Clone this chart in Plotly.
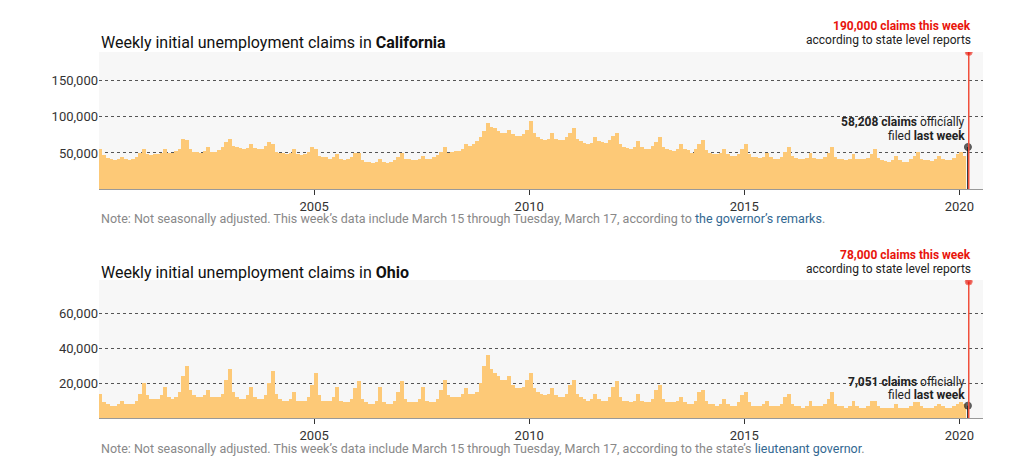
import pandas as pd
import plotly.graph_objects as go

# monthly average weekly initial claims, thousands
ca_k = [
    55, 47, 43, 42, 40, 42, 45, 41, 40, 41, 44, 50,
    55, 48, 47, 48, 48, 50, 55, 50, 50, 53, 56, 70,
    68, 55, 52, 52, 50, 53, 58, 52, 52, 54, 58, 65,
    70, 60, 58, 57, 56, 57, 62, 57, 55, 56, 60, 65,
    62, 52, 50, 50, 48, 50, 56, 48, 47, 48, 52, 58,
    55, 46, 44, 44, 42, 44, 48, 42, 40, 41, 44, 50,
    50, 40, 38, 37, 36, 38, 42, 37, 36, 37, 40, 45,
    50, 42, 41, 40, 40, 42, 46, 42, 42, 44, 47, 52,
    58, 50, 52, 53, 53, 56, 62, 60, 62, 66, 72, 80,
    92, 86, 85, 80, 78, 78, 82, 76, 74, 74, 76, 82,
    95, 78, 72, 70, 68, 70, 78, 70, 68, 68, 72, 78,
    85, 70, 66, 64, 63, 64, 72, 66, 65, 64, 68, 74,
    78, 62, 58, 57, 56, 58, 66, 58, 56, 56, 60, 65,
    72, 58, 55, 54, 53, 55, 62, 55, 54, 50, 55, 62,
    68, 54, 50, 49, 48, 50, 56, 48, 46, 46, 49, 55,
    62, 48, 45, 44, 43, 44, 50, 44, 42, 42, 45, 52,
    58, 46, 43, 42, 42, 43, 50, 43, 42, 42, 44, 50,
    58, 45, 42, 41, 40, 42, 48, 42, 41, 41, 43, 48,
    55, 43, 40, 39, 38, 40, 46, 40, 38, 38, 41, 46,
    52, 42, 40, 40, 39, 41, 46, 41, 40, 40, 43, 48,
    52, 46,
]
oh_k = [
    14, 9, 8, 7, 7, 8, 10, 8, 8, 8, 10, 14,
    20, 13, 11, 11, 11, 13, 18, 12, 11, 12, 15, 24,
    30, 16, 13, 12, 12, 13, 16, 12, 12, 12, 14, 22,
    28, 15, 12, 11, 11, 13, 18, 12, 11, 11, 13, 20,
    27, 14, 11, 10, 10, 11, 15, 10, 10, 10, 12, 19,
    26, 13, 10, 10, 10, 12, 18, 10, 9, 9, 11, 17,
    21, 11, 9, 8, 8, 10, 18, 9, 8, 8, 10, 15,
    21, 11, 9, 9, 9, 11, 18, 10, 9, 9, 11, 16,
    22, 13, 12, 12, 12, 14, 17, 14, 14, 15, 20, 30,
    36, 28, 26, 24, 22, 22, 24, 19, 17, 17, 18, 22,
    26, 17, 15, 14, 13, 14, 17, 13, 12, 12, 14, 19,
    22, 14, 12, 11, 10, 11, 14, 11, 10, 10, 12, 18,
    21, 12, 10, 10, 9, 10, 14, 10, 9, 9, 11, 16,
    19, 11, 9, 9, 9, 10, 12, 9, 8, 8, 10, 15,
    16, 10, 8, 8, 7, 8, 11, 8, 7, 7, 9, 13,
    15, 9, 7, 7, 7, 8, 10, 7, 7, 7, 8, 12,
    14, 8, 7, 7, 6, 7, 10, 7, 7, 7, 8, 11,
    15, 8, 7, 7, 6, 7, 10, 7, 6, 6, 7, 10,
    10, 7, 6, 6, 6, 6, 8, 6, 6, 6, 7, 9,
    9, 7, 6, 6, 6, 7, 8, 7, 6, 6, 7, 8,
    9, 8,
]
last_week_date = "2020-03-14"
this_week_date = "2020-03-21"
ca_last, ca_now = 58208, 190000
oh_last, oh_now = 7051, 78000

months = pd.date_range("2000-01-01", periods=len(ca_k), freq="MS") + pd.Timedelta(days=14)

BAR = "#fdc977"
FONT = "Roboto"
GREY = "#888888"
OFF = 8  # page body margin

fig = go.Figure()

panels = [
    ("x", "y", ca_k, ca_last, ca_now),
    ("x2", "y2", oh_k, oh_last, oh_now),
]
for xa, ya, vals, last, now in panels:
    fig.add_trace(go.Bar(x=months, y=[v * 1000 for v in vals], marker_color=BAR,
                         marker_line_width=0, width=31 * 86400000,
                         xaxis=xa, yaxis=ya, showlegend=False))
    fig.add_trace(go.Scatter(x=[last_week_date, last_week_date], y=[0, last],
                             mode="lines+markers", line=dict(color="#111", width=1.5),
                             marker=dict(size=[0, 7], color="#222"),
                             xaxis=xa, yaxis=ya, showlegend=False))
    fig.add_trace(go.Scatter(x=[this_week_date, this_week_date], y=[0, now],
                             mode="lines+markers", line=dict(color="#f0503c", width=1.5),
                             marker=dict(size=[0, 7], color="#e8140c"),
                             xaxis=xa, yaxis=ya, showlegend=False))


def pxx(x):
    return (x - OFF) / 1024


def pxy(y):
    return 1 - (y - OFF) / 466


xcommon = dict(range=["2000-01-01", "2020-07-20"], domain=[pxx(99), pxx(983)],
               tickvals=["2005-01-01", "2010-01-01", "2015-01-01", "2020-01-01"],
               ticktext=["2005", "2010", "2015", "2020"],
               ticks="outside", ticklen=5, tickcolor="#333", showgrid=False,
               showline=True, linecolor="#999", tickfont=dict(size=13, color="#333"))
ycommon = dict(showgrid=True, gridcolor="#555", griddash="dot", gridwidth=1,
               tickformat=",", zeroline=False, ticks="", tickfont=dict(size=13, color="#333"))

fig.update_layout(
    width=1024, height=466, margin=dict(l=0, r=0, t=0, b=0),
    paper_bgcolor="white", plot_bgcolor="#f7f7f7", bargap=0,
    font=dict(family=FONT, color="#333"),
    xaxis=dict(xcommon, anchor="y"),
    xaxis2=dict(xcommon, anchor="y2"),
    yaxis=dict(ycommon, domain=[pxy(189), pxy(52)], range=[0, 190000],
               tickvals=[50000, 100000, 150000]),
    yaxis2=dict(ycommon, domain=[pxy(418), pxy(280)], range=[0, 78900],
                tickvals=[20000, 40000, 60000]),
)

ann = [
    (99, 43, "Weekly initial unemployment claims in <b>California</b>", "left", 16, "#111"),
    (99, 272, "Weekly initial unemployment claims in <b>Ohio</b>", "left", 16, "#111"),
    (973, 26, "<b>190,000 claims this week</b>", "right", 12, "#e8140c"),
    (973, 40, "according to state level reports", "right", 12, "#222"),
    (973, 255, "<b>78,000 claims this week</b>", "right", 12, "#e8140c"),
    (973, 269, "according to state level reports", "right", 12, "#222"),
    (967, 122, "<b>58,208 claims</b> officially", "right", 12, "#222"),
    (967, 136, "filed <b>last week</b>", "right", 12, "#222"),
    (967, 382, "<b>7,051 claims</b> officially", "right", 12, "#222"),
    (967, 395, "filed <b>last week</b>", "right", 12, "#222"),
    (99, 219, "Note: Not seasonally adjusted. This week\u2019s data include March 15 through Tuesday, March 17, according to "
     "<span style='color:#326891'>the governor\u2019s remarks</span>.", "left", 12.5, GREY),
    (99, 448, "Note: Not seasonally adjusted. This week\u2019s data include March 15 through Tuesday, March 17, according to the state\u2019s "
     "<span style='color:#326891'>lieutenant governor</span>.", "left", 12.5, GREY),
]
for x, y, text, align, size, color in ann:
    fig.add_annotation(x=pxx(x), y=pxy(y), xref="paper", yref="paper", text=text,
                       showarrow=False, xanchor=align, yanchor="middle",
                       font=dict(size=size, color=color, family=FONT))

fig.write_html("out.html")
